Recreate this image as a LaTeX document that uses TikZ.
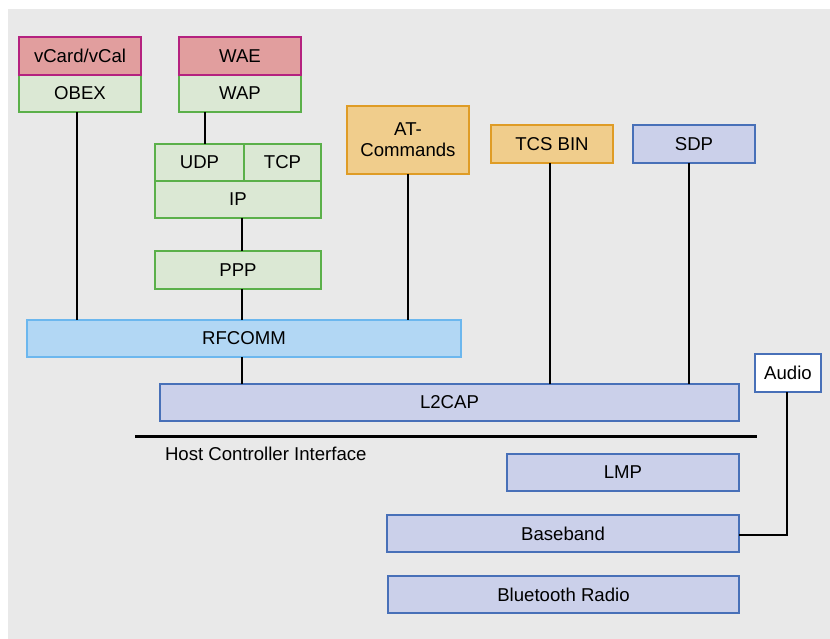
\documentclass[tikz,border=0pt]{standalone}
\usepackage{fontspec}
\setmainfont{Liberation Sans}
\definecolor{bg}{HTML}{E9E9E9}
\definecolor{pinkfill}{HTML}{E19E9E}
\definecolor{pinkdraw}{HTML}{B5227F}
\definecolor{greenfill}{HTML}{DBE8D4}
\definecolor{greendraw}{HTML}{5BB04A}
\definecolor{orangefill}{HTML}{F0CD8C}
\definecolor{orangedraw}{HTML}{DF9C26}
\definecolor{bluefill}{HTML}{CBD0EA}
\definecolor{bluedraw}{HTML}{4870B8}
\definecolor{rffill}{HTML}{B2D7F4}
\definecolor{rfdraw}{HTML}{6CB7EE}
\begin{document}
\begin{tikzpicture}[x=1pt,y=-1pt,
  every node/.style={font=\fontsize{18.6}{21}\selectfont, inner sep=0pt, outer sep=0pt},
  layer/.style={draw, line width=2.9pt, minimum height=37pt, align=center},
  pinkbox/.style={layer, fill=pinkfill, draw=pinkdraw},
  greenbox/.style={layer, fill=greenfill, draw=greendraw},
  orangebox/.style={layer, fill=orangefill, draw=orangedraw},
  bluebox/.style={layer, fill=bluefill, draw=bluedraw},
  rfbox/.style={layer, fill=rffill, draw=rfdraw},
  audiobox/.style={layer, fill=white, draw=bluedraw},
  conn/.style={draw=black, line width=2.2pt}]
\useasboundingbox (0,0) rectangle (830,639);
\fill[bg] (8,9) rectangle (830,639);
\coordinate (hciL) at (135,436.5);
\coordinate (hciR) at (757,436.5);
% boxes
\node[greenbox, minimum width=122pt, minimum height=37pt] (obex) at (80,93.5) {OBEX};
\node[pinkbox, minimum width=122pt, minimum height=38pt] (vcard) at (80,56) {vCard/vCal};
\node[greenbox, minimum width=122pt, minimum height=37pt] (wap) at (240,93.5) {WAP};
\node[pinkbox, minimum width=122pt, minimum height=38pt] (wae) at (240,56) {WAE};
\node[greenbox, minimum width=89pt] (udp) at (199.5,162.5) {UDP};
\node[greenbox, minimum width=77pt] (tcp) at (282.5,162.5) {TCP};
\node[greenbox, minimum width=166pt] (ip) at (238,199.5) {IP};
\node[greenbox, minimum width=166pt, minimum height=38pt] (ppp) at (238,270) {PPP};
\node[orangebox, minimum width=122pt, minimum height=68pt] (at) at (408,140) {AT-\\Commands};
\node[orangebox, minimum width=122pt, minimum height=38pt] (tcs) at (552,144) {TCS BIN};
\node[bluebox, minimum width=122pt, minimum height=38pt] (sdp) at (694,144) {SDP};
\node[rfbox, minimum width=434pt] (rfcomm) at (244,338.5) {RFCOMM};
\node[bluebox, minimum width=579pt] (l2cap) at (449.5,402.5) {L2CAP};
\node[audiobox, minimum width=66pt, minimum height=38pt] (audio) at (788,373) {Audio};
\node[bluebox, minimum width=232pt] (lmp) at (623,472.5) {LMP};
\node[bluebox, minimum width=352pt] (baseband) at (563,533.5) {Baseband};
\node[bluebox, minimum width=351pt] (radio) at (563.5,594.5) {Bluetooth Radio};
\node[anchor=west] (hcitext) at (165,454) {Host Controller Interface};
% connectors
\draw[conn] ([xshift=-3pt]obex.south) -- ([xshift=-3pt]obex.south |- rfcomm.north);
\draw[conn] ([xshift=-35pt]wap.south) -- ([xshift=-35pt]wap.south |- udp.north);
\draw[conn] ([xshift=4pt]ip.south) -- ([xshift=4pt]ppp.north);
\draw[conn] ([xshift=4pt]ppp.south) -- ([xshift=4pt]ppp.south |- rfcomm.north);
\draw[conn] (at.south) -- (at.south |- rfcomm.north);
\draw[conn] ([xshift=-2pt]rfcomm.south) -- ([xshift=-2pt]rfcomm.south |- l2cap.north);
\draw[conn] ([xshift=-2pt]tcs.south) -- ([xshift=-2pt]tcs.south |- l2cap.north);
\draw[conn] ([xshift=-5pt]sdp.south) -- ([xshift=-5pt]sdp.south |- l2cap.north);
\draw[conn] ([xshift=-1pt]audio.south) |- ([yshift=-1.5pt]baseband.east);
\draw[line width=3.4pt] (hciL) -- (hciR);
\end{tikzpicture}
\end{document}
